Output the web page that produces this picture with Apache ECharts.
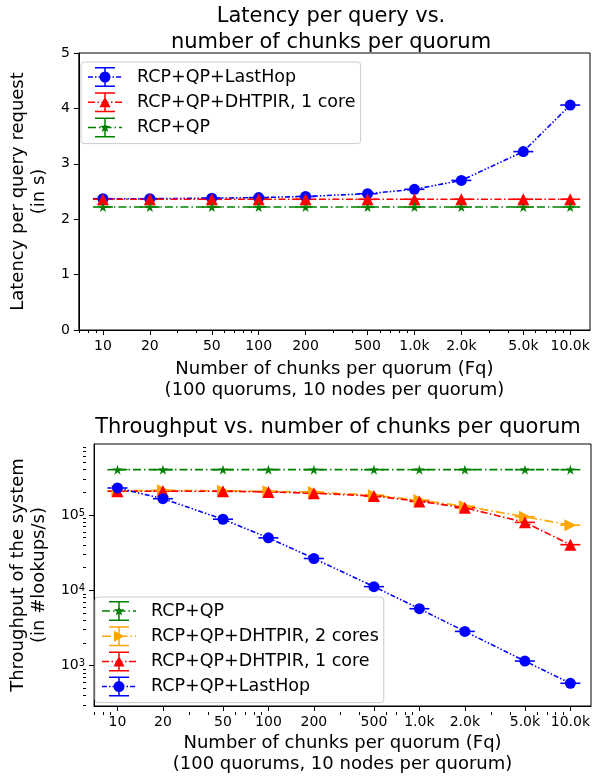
<!DOCTYPE html>
<html><head><meta charset="utf-8">
<script src="https://cdn.jsdelivr.net/npm/echarts@6/dist/echarts.min.js"></script>
<style>html,body{margin:0;padding:0;background:#fff}#c{width:594px;height:776px}</style>
</head><body><div id="c"></div><script>
// ---------------- data ----------------
const chunks = [10, 20, 50, 100, 200, 500, 1000, 2000, 5000, 10000];
const xTickLabels = ['10', '20', '50', '100', '200', '500', '1.0k', '2.0k', '5.0k', '10.0k'];
const xMinorTicks = [7, 8, 9, 30, 40, 60, 70, 80, 90, 300, 400, 600, 700, 800, 900, 3000, 4000, 6000, 7000, 8000, 9000];

const latLastHop = [2.37, 2.37, 2.38, 2.39, 2.41, 2.46, 2.54, 2.70, 3.22, 4.06];
const latDht1    = [2.36, 2.36, 2.36, 2.36, 2.36, 2.36, 2.36, 2.36, 2.36, 2.36];
const latRcpQp   = [2.22, 2.22, 2.22, 2.22, 2.22, 2.22, 2.22, 2.22, 2.22, 2.22];

const tpTicks = [1000, 10000, 100000];
const tpTickExp = ['3', '4', '5'];
const tpMinorTicks = [300, 400, 500, 600, 700, 800, 900, 2000, 3000, 4000, 5000, 6000, 7000, 8000, 9000,
  20000, 30000, 40000, 50000, 60000, 70000, 80000, 90000, 200000, 300000, 400000, 500000, 600000, 700000, 800000];

const tpRcpQp   = [401000, 401000, 401000, 401000, 401000, 401000, 401000, 401000, 401000, 401000];
const tpDht2    = [210000, 213000, 210000, 207000, 202000, 184000, 158000, 131000, 95000, 73500];
const tpDht1    = [207000, 208000, 207000, 203000, 195000, 179000, 152000, 125000, 80000, 40400];
const tpLastHop = [229000, 165000, 88000, 49800, 26500, 11200, 5700, 2850, 1150, 583];

// ---------------- styling ----------------
const FONT = 'DejaVu Sans';
const C = { blue: '#0000ff', red: '#ff0000', green: '#008000', orange: '#ffa500' };
const N = { lh: 'RCP+QP+LastHop', d1: 'RCP+QP+DHTPIR, 1 core', d2: 'RCP+QP+DHTPIR, 2 cores', qp: 'RCP+QP' };
const DASH = {
  blue: [5, 2, 1.5, 2, 1.5, 2],
  red: [7, 2.5, 1.5, 2.5],
  green: [8, 3, 1.5, 3],
  orange: [9, 3, 1.5, 3]
};
const STAR = 'path://M50,0L61.2,34.5L97.6,34.5L68.2,55.9L79.4,90.5L50,69.1L20.6,90.5L31.8,55.9L2.4,34.5L38.8,34.5Z';

function rect(x, y, w, h) { return `M${x},${y}L${x + w},${y}L${x + w},${y + h}L${x},${y + h}Z`; }
function starPath(cx, cy, R, r) {
  let s = '';
  for (let k = 0; k < 10; k++) {
    const a = -Math.PI / 2 + k * Math.PI / 5;
    const rad = k % 2 === 0 ? R : r;
    s += (k === 0 ? 'M' : 'L') + (cx + rad * Math.cos(a)).toFixed(2) + ',' + (cy + rad * Math.sin(a)).toFixed(2);
  }
  return s + 'Z';
}
const MK = {
  circle: 'M22.5,10A5.5,5.5 0 1 1 11.5,10A5.5,5.5 0 1 1 22.5,10Z',
  tri: 'M17,4.5L22.5,15L11.5,15Z',
  right: 'M22.5,10L12,15.5L12,4.5Z',
  star: starPath(17, 10, 5.5, 2.3)
};
function icon(dash, marker) {
  let p = '', x = 0, i = 0;
  while (x < 34) {
    const len = dash[i % dash.length];
    if (i % 2 === 0) { const e = Math.min(34, x + len); p += rect(x, 9.25, e - x, 1.5); }
    x += len; i++;
  }
  p += rect(33.9, 9.25, 0.1, 1.5);
  p += rect(16.25, 0.75, 1.5, 18.5) + rect(7, 0, 20, 1.5) + rect(7, 18.5, 20, 1.5);
  return 'path://' + p + marker;
}
const ICON = {
  [N.lh]: icon(DASH.blue, MK.circle),
  [N.d1]: icon(DASH.red, MK.tri),
  [N.d2]: icon(DASH.orange, MK.right),
  [N.qp]: icon(DASH.green, MK.star)
};

function lineSeries(name, ys, color, dash, symbol, size, xi, yi, rotate) {
  return {
    type: 'line', name, xAxisIndex: xi, yAxisIndex: yi,
    data: chunks.map((c, i) => [c, ys[i]]),
    symbol, symbolSize: size, symbolRotate: rotate || 0,
    showAllSymbol: true,
    lineStyle: { color, width: 1.6, type: dash },
    itemStyle: { color, borderWidth: 0 },
    emphasis: { disabled: true }
  };
}
function capSeries(ys, color, xi, yi) {
  return {
    type: 'custom', xAxisIndex: xi, yAxisIndex: yi,
    data: chunks.map((c, i) => [c, ys[i]]),
    encode: { x: 0, y: 1 },
    silent: true,
    renderItem: (params, api) => {
      const p = api.coord([api.value(0), api.value(1)]);
      return {
        type: 'group', children: [
          { type: 'line', shape: { x1: p[0] - 10, y1: p[1], x2: p[0] + 10, y2: p[1] }, style: { stroke: color, lineWidth: 1.6 } },
          { type: 'line', shape: { x1: p[0], y1: p[1] - 1, x2: p[0], y2: p[1] + 1 }, style: { stroke: color, lineWidth: 1.6 } }
        ]
      };
    }
  };
}

const xFmt = v => { const i = chunks.findIndex(c => Math.abs(c - v) < 1e-6 * c); return i >= 0 ? xTickLabels[i] : ''; };
const yFmt = v => { const i = tpTicks.findIndex(t => Math.abs(t - v) < 1e-6 * t); return i >= 0 ? '{b|10}{s|' + tpTickExp[i] + '}' : ''; };

const axisTxt = { fontFamily: FONT, fontSize: 14, color: '#000' };
const nameTxt = { fontFamily: FONT, fontSize: 18, color: '#000', lineHeight: 21 };
const tickLine = { color: '#000', width: 1 };

function xMajor(grid, min, max, gap) {
  return {
    type: 'log', logBase: 10, gridIndex: grid, min, max, position: 'bottom',
    name: 'Number of chunks per quorum (Fq)\n(100 quorums, 10 nodes per quorum)',
    nameLocation: 'middle', nameGap: gap, nameTextStyle: nameTxt,
    axisLine: { show: true, lineStyle: { color: '#000', width: 1 } },
    axisTick: { show: true, length: 5, lineStyle: tickLine, customValues: chunks },
    axisLabel: { show: true, margin: 9, ...axisTxt, formatter: xFmt, customValues: chunks, hideOverlap: false },
    splitLine: { show: false }, minorTick: { show: false }
  };
}
function xMinor(grid, min, max, h) {
  return {
    type: 'log', logBase: 10, gridIndex: grid, min, max, position: 'top', offset: -h,
    axisLine: { show: false },
    axisTick: { show: true, inside: true, length: 3, lineStyle: tickLine, customValues: xMinorTicks },
    axisLabel: { show: false }, splitLine: { show: false }
  };
}

const option = {
  animation: false,
  backgroundColor: '#fff',
  textStyle: { fontFamily: FONT },
  title: [
    { text: 'Latency per query vs.\nnumber of chunks per quorum', left: 331, top: 4, textAlign: 'center', padding: 0,
      textStyle: { fontFamily: FONT, fontSize: 21, fontWeight: 'normal', color: '#000', lineHeight: 26 } },
    { text: 'Throughput vs. number of chunks per quorum', left: 338, top: 415, textAlign: 'center', padding: 0,
      textStyle: { fontFamily: FONT, fontSize: 21, fontWeight: 'normal', color: '#000', lineHeight: 26 } }
  ],
  grid: [
    { left: 72, top: 53, width: 518, height: 277, show: true, borderColor: '#000', borderWidth: 1, backgroundColor: 'transparent' },
    { left: 86, top: 444, width: 505, height: 268, show: true, borderColor: '#000', borderWidth: 1, backgroundColor: 'transparent' }
  ],
  xAxis: [
    xMajor(0, 7, 13400, 29),
    xMinor(0, 7, 13400, 277),
    xMajor(1, 7, 13700, 27),
    xMinor(1, 7, 13700, 268)
  ],
  yAxis: [
    { type: 'value', gridIndex: 0, min: 0, max: 5, interval: 1, position: 'left',
      name: 'Latency per query request\n(in s)', nameLocation: 'middle', nameRotate: 90, nameGap: 23, nameTextStyle: nameTxt,
      axisLine: { show: true, lineStyle: { color: '#000', width: 1 } },
      axisTick: { show: true, length: 5, lineStyle: tickLine },
      axisLabel: { margin: 9, ...axisTxt }, splitLine: { show: false } },
    { type: 'log', logBase: 10, gridIndex: 1, min: 291, max: 879000, position: 'left',
      name: 'Throughput of the system\n(in #lookups/s)', nameLocation: 'middle', nameRotate: 90, nameGap: 38, nameTextStyle: nameTxt,
      axisLine: { show: true, lineStyle: { color: '#000', width: 1 } },
      axisTick: { show: true, length: 5, lineStyle: tickLine, customValues: tpTicks },
      axisLabel: { margin: 9, ...axisTxt, customValues: tpTicks, formatter: yFmt,
        rich: { b: { fontFamily: FONT, fontSize: 14, color: '#000' }, s: { fontFamily: FONT, fontSize: 10, color: '#000', verticalAlign: 'top' } } },
      splitLine: { show: false }, minorTick: { show: false } },
    { type: 'log', logBase: 10, gridIndex: 1, min: 291, max: 879000, position: 'right', offset: -505,
      axisLine: { show: false },
      axisTick: { show: true, inside: true, length: 3, lineStyle: tickLine, customValues: tpMinorTicks },
      axisLabel: { show: false }, splitLine: { show: false } }
  ],
  legend: [
    { left: 81, top: 62, orient: 'vertical', itemWidth: 34, itemHeight: 20, itemGap: 5.3, padding: [5, 5, 6, 7],
      backgroundColor: 'rgba(255,255,255,0.8)', borderColor: '#cccccc', borderWidth: 1, borderRadius: 3,
      selectedMode: false, textStyle: { fontFamily: FONT, fontSize: 17.5, color: '#000', padding: [0, 0, 0, 10] },
      data: [N.lh, N.d1, N.qp].map(n => ({ name: n, icon: ICON[n] })) },
    { left: 95, top: 597, orient: 'vertical', itemWidth: 34, itemHeight: 20, itemGap: 5.2, padding: [4, 5, 6, 7],
      backgroundColor: 'rgba(255,255,255,0.8)', borderColor: '#cccccc', borderWidth: 1, borderRadius: 3,
      selectedMode: false, textStyle: { fontFamily: FONT, fontSize: 17.5, color: '#000', padding: [0, 0, 0, 10] },
      data: [N.qp, N.d2, N.d1, N.lh].map(n => ({ name: n, icon: ICON[n] })) }
  ],
  series: [
    lineSeries(N.lh, latLastHop, C.blue, DASH.blue, 'circle', 11, 0, 0),
    capSeries(latLastHop, C.blue, 0, 0),
    lineSeries(N.d1, latDht1, C.red, DASH.red, 'triangle', 12, 0, 0),
    capSeries(latDht1, C.red, 0, 0),
    lineSeries(N.qp, latRcpQp, C.green, DASH.green, STAR, 10, 0, 0),
    capSeries(latRcpQp, C.green, 0, 0),

    lineSeries(N.qp, tpRcpQp, C.green, DASH.green, STAR, 10, 2, 1),
    capSeries(tpRcpQp, C.green, 2, 1),
    lineSeries(N.d2, tpDht2, C.orange, DASH.orange, 'triangle', 12, 2, 1, -90),
    capSeries(tpDht2, C.orange, 2, 1),
    lineSeries(N.d1, tpDht1, C.red, DASH.red, 'triangle', 12, 2, 1),
    capSeries(tpDht1, C.red, 2, 1),
    lineSeries(N.lh, tpLastHop, C.blue, DASH.blue, 'circle', 11, 2, 1),
    capSeries(tpLastHop, C.blue, 2, 1)
  ]
};
const chart = echarts.init(document.getElementById('c'), null, { renderer: 'canvas' });
chart.setOption(option);
</script></body></html>
